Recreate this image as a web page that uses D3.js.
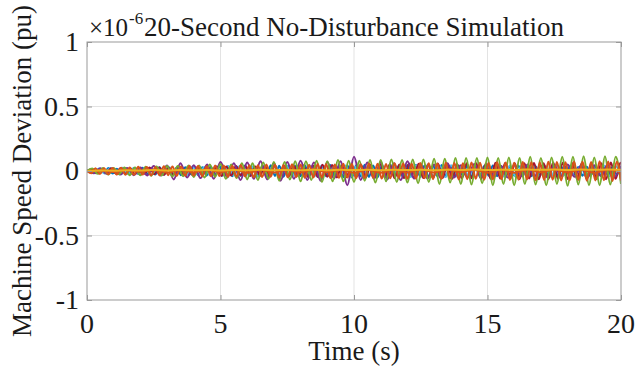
<!DOCTYPE html>
<html>
<head>
<meta charset="utf-8">
<script src="https://cdn.jsdelivr.net/npm/d3@7"></script>
<style>
  body { margin: 0; background: #fff; }
</style>
</head>
<body>
<div id="chart"></div>
<script>
// all values in units of 1e-6 pu (axis exponent shown as x10^-6)
const xTicks = [0, 5, 10, 15, 20];
const xTickLabels = ['0', '5', '10', '15', '20'];
const yTicks = [-1, -0.5, 0, 0.5, 1];
const yTickLabels = ['-1', '-0.5', '0', '0.5', '1'];

// machine speed deviations, sampled at each series' own step (s)
const blueStep = 0.16;
const blue = [
  0, 0.014, -0.018, 0.02, -0.017, 0.023, -0.02, 0.018, -0.025, 0.022,
  -0.02, 0.026, -0.023, 0.025, -0.028, 0.023, -0.027, 0.029, -0.025, 0.028,
  -0.03, 0.027, -0.032, 0.03, -0.028, 0.034, -0.032, 0.03, -0.036, 0.033,
  -0.034, 0.038, -0.032, 0.036, -0.04, 0.035, -0.038, 0.042, -0.037, 0.039,
  -0.042, 0.036, -0.04, 0.044, -0.038, 0.041, -0.045, 0.04, -0.038, 0.043,
  -0.04, 0.045, -0.042, 0.038, -0.046, 0.042, -0.04, 0.047, -0.044, 0.04,
  -0.048, 0.043, -0.05, 0.045, -0.042, 0.048, -0.046, 0.042, -0.05, 0.046,
  -0.043, 0.05, -0.047, 0.044, -0.052, 0.046, -0.043, 0.049, -0.045, 0.042,
  -0.048, 0.044, -0.041, 0.047, -0.043, 0.04, -0.046, 0.042, -0.039, 0.045,
  -0.042, 0.038, -0.044, 0.04, -0.037, 0.043, -0.04, 0.036, -0.042, 0.039,
  -0.036, 0.041, -0.038, 0.035, -0.04, 0.037, -0.034, 0.039, -0.036, 0.033,
  -0.038, 0.035, -0.032, 0.037, -0.034, 0.031, -0.036, 0.033, -0.03, 0.035,
  -0.032, 0.029, -0.034, 0.031, -0.028, 0.03
];

const orangeStep = 0.16;
const orange = [
  0, -0.018, 0.022, -0.024, 0.021, -0.026, 0.024, -0.028, 0.025, -0.029,
  0.027, -0.03, 0.032, -0.028, 0.031, -0.034, 0.03, -0.033, 0.036, -0.032,
  0.035, -0.038, 0.034, -0.037, 0.04, -0.035, 0.039, -0.042, 0.037, -0.04,
  0.043, -0.039, 0.042, -0.045, 0.04, -0.044, 0.047, -0.042, 0.045, -0.048,
  0.044, -0.047, 0.05, -0.045, 0.048, -0.051, 0.046, -0.049, 0.052, -0.047,
  0.05, -0.053, 0.048, -0.051, 0.054, -0.049, 0.052, -0.055, 0.05, -0.053,
  0.056, -0.051, 0.054, -0.057, 0.052, -0.055, 0.058, -0.053, 0.056, -0.059,
  0.054, -0.057, 0.06, -0.055, 0.058, -0.061, 0.056, -0.059, 0.062, -0.057,
  0.06, -0.063, 0.058, -0.061, 0.064, -0.059, 0.062, -0.065, 0.06, -0.063,
  0.066, -0.061, 0.064, -0.067, 0.062, -0.065, 0.068, -0.063, 0.066, -0.069,
  0.064, -0.067, 0.07, -0.065, 0.068, -0.071, 0.066, -0.069, 0.072, -0.067,
  0.07, -0.073, 0.068, -0.071, 0.074, -0.069, 0.072, -0.075, 0.07, -0.073,
  0.076, -0.071, 0.074, -0.077, 0.072, -0.075
];

const lightBlueStep = 0.22;
const lightBlue = [
  0, -0.016, 0.02, -0.019, 0.023, -0.021, 0.025, -0.024, 0.022, -0.027,
  0.026, -0.029, 0.027, -0.031, 0.03, -0.028, 0.033, -0.032, 0.035, -0.033,
  0.031, -0.036, 0.034, -0.038, 0.037, -0.035, 0.039, -0.037, 0.035, -0.04,
  0.036, -0.04, 0.038, -0.035, 0.041, -0.039, 0.037, -0.042, 0.04, -0.038,
  0.043, -0.041, 0.039, -0.044, 0.042, -0.04, 0.045, -0.043, 0.041, -0.046,
  0.044, -0.042, 0.046, -0.044, 0.041, -0.047, 0.045, -0.043, 0.048, -0.045,
  0.042, -0.047, 0.045, -0.043, 0.048, -0.046, 0.044, -0.049, 0.046, -0.043,
  0.048, -0.045, 0.043, -0.047, 0.044, -0.041, 0.046, -0.043, 0.04, -0.045,
  0.042, -0.039, 0.044, -0.041, 0.038, -0.043, 0.04, -0.037, 0.042, -0.039,
  0.036, -0.04
];

const darkRedStep = 0.18;
const darkRed = [
  0, 0.014, -0.018, 0.016, -0.02, 0.022, -0.019, 0.024, -0.022, 0.021,
  -0.026, 0.024, -0.022, 0.028, -0.025, 0.027, -0.03, 0.026, -0.029, 0.032,
  -0.028, 0.031, -0.034, 0.03, -0.033, 0.036, -0.032, 0.035, -0.038, 0.034,
  -0.035, 0.038, -0.033, 0.036, -0.039, 0.035, -0.038, 0.041, -0.037, 0.04,
  -0.043, 0.039, -0.042, 0.045, -0.04, 0.044, -0.047, 0.042, -0.045, 0.048,
  -0.044, 0.047, -0.05, 0.045, -0.049, 0.052, -0.047, 0.05, -0.053, 0.048,
  -0.051, 0.054, -0.05, 0.053, -0.056, 0.051, -0.055, 0.058, -0.053, 0.056,
  -0.055, 0.052, -0.056, 0.058, -0.054, 0.057, -0.06, 0.055, -0.058, 0.061,
  -0.057, 0.06, -0.062, 0.058, -0.061, 0.063, -0.059, 0.062, -0.064, 0.06,
  -0.063, 0.061, -0.059, 0.062, -0.064, 0.06, -0.063, 0.065, -0.061, 0.064,
  -0.062, 0.06, -0.063, 0.065, -0.061, 0.064, -0.062, 0.06, -0.063, 0.065,
  -0.061, 0.063, -0.06
];

const purpleStep = 0.25;
const purple = [
  0, -0.018, 0.022, -0.022, 0.018, -0.028, 0.024, -0.032, 0.028, -0.034,
  0.038, -0.034, 0.042, -0.065, 0.06, -0.05, 0.045, -0.055, 0.05, -0.06,
  0.07, -0.05, 0.06, -0.07, 0.065, -0.06, 0.075, -0.065, 0.06, -0.075,
  0.07, -0.06, 0.08, -0.07, 0.065, -0.075, 0.07, -0.06, 0.075, -0.11,
  0.11, -0.07, 0.065, -0.06, 0.07, -0.065, 0.06, -0.07, 0.075, -0.06,
  0.055, -0.06, 0.05, -0.055, 0.06, -0.05, 0.045, -0.05, 0.055, -0.045,
  0.05, -0.045, 0.04, -0.05, 0.045, -0.04, 0.05, -0.045, 0.04, -0.05,
  0.045, -0.04, 0.05, -0.045, 0.04, -0.05, 0.045, -0.04, 0.05, -0.045,
  0.04
];

const greenStep = 0.2;
const green = [
  0, 0.02, -0.022, 0.024, -0.027, 0.024, -0.025, 0.028, -0.032, 0.028,
  -0.033, 0.033, -0.037, 0.034, -0.034, 0.038, -0.042, 0.038, -0.04, 0.043,
  -0.046, 0.042, -0.05, 0.05, -0.045, 0.055, -0.06, 0.05, -0.055, 0.06,
  -0.065, 0.06, -0.07, 0.065, -0.06, 0.07, -0.075, 0.07, -0.065, 0.075,
  -0.08, 0.075, -0.07, 0.08, -0.085, 0.075, -0.08, 0.085, -0.08, 0.08,
  -0.085, 0.08, -0.075, 0.085, -0.09, 0.085, -0.08, 0.09, -0.085, 0.085,
  -0.09, 0.09, -0.095, 0.09, -0.085, 0.095, -0.1, 0.095, -0.09, 0.1,
  -0.1, 0.1, -0.105, 0.1, -0.095, 0.105, -0.11, 0.1, -0.1, 0.105,
  -0.11, 0.1, -0.1, 0.11, -0.105, 0.1, -0.11, 0.105, -0.1, 0.11,
  -0.115, 0.11, -0.105, 0.115, -0.11, 0.105, -0.11, 0.115, -0.105, 0.11,
  -0.1
];

const orange2Step = 0.5;
const orange2 = [
  0, 0.006, -0.008, 0.01, -0.006, 0.009, -0.011, 0.008, -0.01, 0.012,
  -0.009, 0.011, -0.013, 0.01, -0.012, 0.009, -0.011, 0.013, -0.01, 0.012,
  -0.014, 0.011, -0.013, 0.01, -0.012, 0.014, -0.011, 0.013, -0.01, 0.012,
  -0.014, 0.011, -0.013, 0.012, -0.01, 0.013, -0.011, 0.012, -0.014, 0.011,
  -0.012
];

const yellowStep = 0.5;
const yellow = [
  0, 0.004, 0.002, 0.006, 0.003, 0.007, 0.004, 0.008, 0.005, 0.007,
  0.004, 0.008, 0.005, 0.009, 0.006, 0.008, 0.005, 0.009, 0.006, 0.01,
  0.007, 0.009, 0.006, 0.01, 0.007, 0.009, 0.006, 0.01, 0.008, 0.011,
  0.007, 0.01, 0.008, 0.011, 0.009, 0.012, 0.008, 0.011, 0.009, 0.012,
  0.01
];

const series = [
  { color: '#0072BD', step: blueStep, values: blue },
  { color: '#4DBEEE', step: lightBlueStep, values: lightBlue },
  { color: '#A2142F', step: darkRedStep, values: darkRed },
  { color: '#7E2F8E', step: purpleStep, values: purple },
  { color: '#77AC30', step: greenStep, values: green },
  { color: '#D95319', step: orangeStep, values: orange },
  { color: '#D95319', step: orange2Step, values: orange2 },
  { color: '#EDB120', step: yellowStep, values: yellow }
];

const serif = 'Liberation Serif';
const textColor = '#1a1a1a';

const width = 639, height = 368;
const margin = { top: 42, right: 18, bottom: 68, left: 87 };
const w = width - margin.left - margin.right;
const h = height - margin.top - margin.bottom;

const svg = d3.select('#chart').append('svg')
  .attr('width', width)
  .attr('height', height);

const g = svg.append('g')
  .attr('transform', 'translate(' + margin.left + ',' + margin.top + ')');

const x = d3.scaleLinear().domain([0, 20]).range([0, w]);
const y = d3.scaleLinear().domain([-1, 1]).range([h, 0]);

// grid
g.append('g').selectAll('line')
  .data(xTicks.slice(1, -1)).enter().append('line')
  .attr('x1', d => x(d)).attr('x2', d => x(d))
  .attr('y1', 0).attr('y2', h)
  .attr('stroke', '#e3e3e3').attr('stroke-width', 1);
g.append('g').selectAll('line')
  .data(yTicks.slice(1, -1)).enter().append('line')
  .attr('x1', 0).attr('x2', w)
  .attr('y1', d => y(d)).attr('y2', d => y(d))
  .attr('stroke', '#e3e3e3').attr('stroke-width', 1);

// lines
svg.append('defs').append('clipPath').attr('id', 'plot-clip')
  .append('rect').attr('width', w).attr('height', h);

const lines = g.append('g').attr('clip-path', 'url(#plot-clip)');
series.forEach(function(s) {
  const line = d3.line()
    .x((d, i) => x(i * s.step))
    .y(d => y(d))
    .curve(d3.curveMonotoneX);
  lines.append('path')
    .datum(s.values)
    .attr('fill', 'none')
    .attr('stroke', s.color)
    .attr('stroke-width', 2)
    .attr('d', line);
});

// axes: inward ticks on all four sides, labels added separately
g.append('g')
  .attr('transform', 'translate(0,' + h + ')')
  .call(d3.axisBottom(x).tickValues(xTicks).tickFormat('').tickSizeInner(-5).tickSizeOuter(0));
g.append('g')
  .call(d3.axisLeft(y).tickValues(yTicks).tickFormat('').tickSizeInner(-5).tickSizeOuter(0));
g.append('g')
  .call(d3.axisTop(x).tickValues(xTicks).tickFormat('').tickSizeInner(-5).tickSizeOuter(0));
g.append('g')
  .attr('transform', 'translate(' + w + ',0)')
  .call(d3.axisRight(y).tickValues(yTicks).tickFormat('').tickSizeInner(-5).tickSizeOuter(0));

g.selectAll('.domain').remove();
g.selectAll('.tick line').attr('stroke', '#999');
g.selectAll('.tick text').remove();

g.append('rect')
  .attr('width', w).attr('height', h)
  .attr('fill', 'none')
  .attr('stroke', '#999')
  .attr('stroke-width', 1);

// tick labels
g.append('g').selectAll('text')
  .data(xTicks).enter().append('text')
  .attr('x', d => x(d))
  .attr('y', h + 33)
  .attr('text-anchor', 'middle')
  .attr('font-family', serif)
  .attr('font-size', 28)
  .attr('fill', textColor)
  .text((d, i) => xTickLabels[i]);

g.append('g').selectAll('text')
  .data(yTicks).enter().append('text')
  .attr('x', -8)
  .attr('y', d => y(d) + 9)
  .attr('text-anchor', 'end')
  .attr('font-family', serif)
  .attr('font-size', 28)
  .attr('fill', textColor)
  .text((d, i) => yTickLabels[i]);

// labels
svg.append('text')
  .attr('x', margin.left + w / 2)
  .attr('y', 360)
  .attr('text-anchor', 'middle')
  .attr('font-family', serif)
  .attr('font-size', 27)
  .attr('fill', textColor)
  .text('Time (s)');

svg.append('text')
  .attr('transform', 'translate(31,' + (margin.top + h / 2) + ') rotate(-90)')
  .attr('text-anchor', 'middle')
  .attr('font-family', serif)
  .attr('font-size', 27)
  .attr('fill', textColor)
  .text('Machine Speed Deviation (pu)');

svg.append('text')
  .attr('x', margin.left + w / 2)
  .attr('y', 36)
  .attr('text-anchor', 'middle')
  .attr('font-family', serif)
  .attr('font-size', 27)
  .attr('fill', textColor)
  .text('20-Second No-Disturbance Simulation');

svg.append('text')
  .attr('x', 89)
  .attr('y', 36)
  .attr('font-family', serif)
  .attr('font-size', 25)
  .attr('fill', textColor)
  .text('×10');
svg.append('text')
  .attr('x', 129)
  .attr('y', 24)
  .attr('font-family', serif)
  .attr('font-size', 17)
  .attr('fill', textColor)
  .text('-6');
</script>
</body>
</html>
